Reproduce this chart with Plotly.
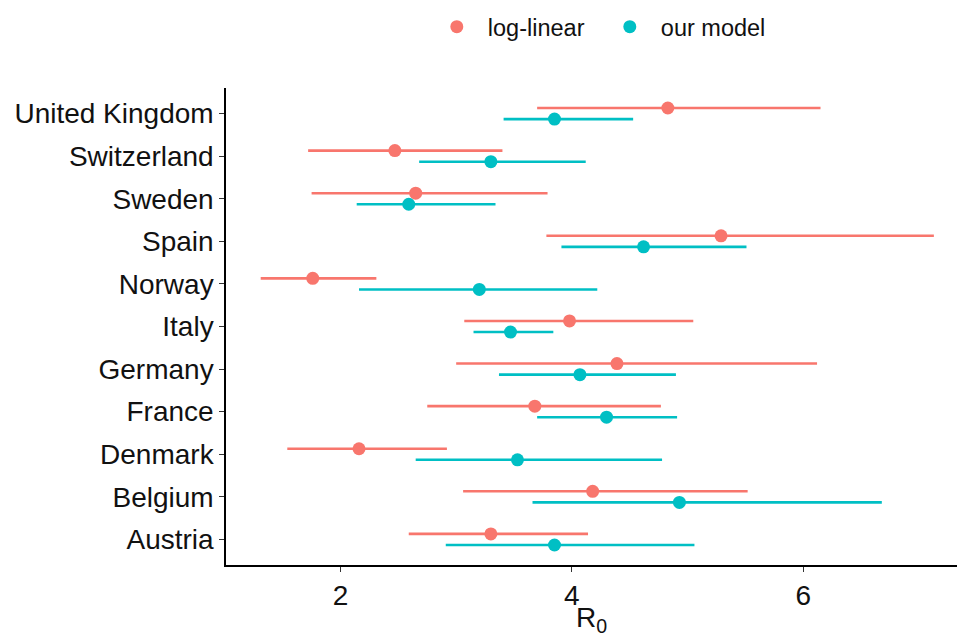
import plotly.graph_objects as go

countries = ["Austria", "Belgium", "Denmark", "France", "Germany", "Italy",
             "Norway", "Spain", "Sweden", "Switzerland", "United Kingdom"]

loglin_mid = [3.30, 4.18, 2.16, 3.68, 4.39, 3.98, 1.76, 5.29, 2.65, 2.47, 4.83]
loglin_lo  = [2.59, 3.06, 1.54, 2.75, 3.00, 3.07, 1.31, 3.78, 1.75, 1.72, 3.70]
loglin_hi  = [4.14, 5.52, 2.92, 4.77, 6.12, 5.05, 2.31, 7.13, 3.79, 3.40, 6.15]

model_mid = [3.85, 4.93, 3.53, 4.30, 4.07, 3.47, 3.20, 4.62, 2.59, 3.30, 3.85]
model_lo  = [2.91, 3.66, 2.65, 3.70, 3.37, 3.15, 2.16, 3.91, 2.14, 2.68, 3.41]
model_hi  = [5.06, 6.68, 4.78, 4.91, 4.90, 3.84, 4.22, 5.51, 3.34, 4.12, 4.53]

series = [
    ("log-linear", "#F8766D", loglin_mid, loglin_lo, loglin_hi, 0.13),
    ("our model", "#00BFC4", model_mid, model_lo, model_hi, -0.13),
]

FONT = "Liberation Sans, Arial, Helvetica, sans-serif"

fig = go.Figure()
for name, color, mid, lo, hi, dodge in series:
    ypos = [i + 1 + dodge for i in range(len(countries))]
    fig.add_trace(go.Scatter(
        x=mid, y=ypos, mode="markers", name=name,
        marker=dict(color=color, size=13, line=dict(width=0)),
        error_x=dict(type="data", symmetric=False,
                     array=[h - m for h, m in zip(hi, mid)],
                     arrayminus=[m - l for m, l in zip(mid, lo)],
                     color=color, thickness=2.6, width=0),
    ))

fig.update_layout(
    width=957, height=637,
    margin=dict(l=226, r=0, t=88, b=72),
    paper_bgcolor="white", plot_bgcolor="white",
    font=dict(family=FONT, color="#000000"),
    showlegend=True,
    legend=dict(orientation="h", xanchor="center", yanchor="middle",
                x=0.51, y=1.128, font=dict(size=23.5, color="#111111"),
                bgcolor="rgba(0,0,0,0)", itemwidth=52,
                entrywidth=106, entrywidthmode="pixels", traceorder="normal"),
    xaxis=dict(range=[1.01, 7.33], tickvals=[2, 4, 6], ticktext=["2", "4", "6"],
               showgrid=False, zeroline=False,
               showline=True, linecolor="#000000", linewidth=1.5,
               ticks="outside", ticklen=5, tickwidth=1.3, tickcolor="#333333",
               tickfont=dict(size=28, color="#111111"),
               title=dict(text="R<sub>0</sub>", font=dict(size=28, color="#111111"), standoff=6)),
    yaxis=dict(range=[0.4, 11.6], tickvals=list(range(1, len(countries) + 1)),
               ticktext=countries,
               showgrid=False, zeroline=False,
               showline=True, linecolor="#000000", linewidth=1.5,
               ticks="outside", ticklen=5, tickwidth=1.3, tickcolor="#333333",
               tickfont=dict(size=28, color="#111111")),
)

fig.write_html("out.html")
